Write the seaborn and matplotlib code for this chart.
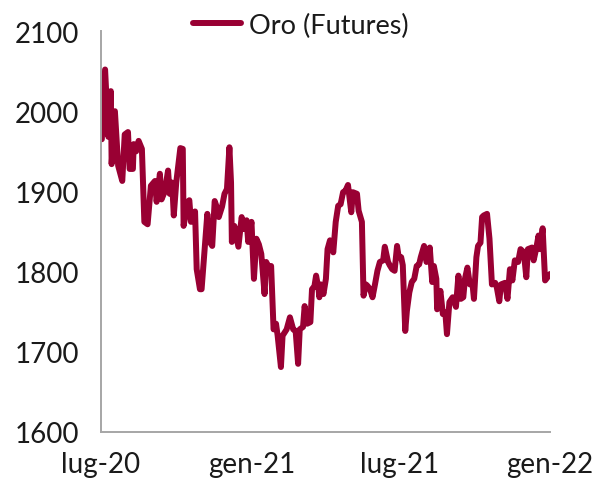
import numpy as np
import pandas as pd
import matplotlib
matplotlib.use("Agg")
import matplotlib.pyplot as plt
import seaborn as sns

# ── data ─────────────────────────────────────────────────────────────────────
START = "2020-07-01"
DAYS = [
    1, 5, 9, 12, 13, 17, 21, 26, 29, 33, 35, 39, 40, 43, 46, 50, 53, 57, 61, 66,
    68, 72, 74, 78, 82, 84, 87, 89, 92, 97, 100, 101, 106, 108, 110, 115, 117, 121, 123, 127,
    130, 133, 136, 139, 141, 144, 148, 151, 154, 157, 159, 160, 163, 166, 168, 172, 175, 178, 180, 184,
    187, 190, 193, 196, 200, 202, 205, 208, 211, 214, 216, 220, 222, 227, 231, 235, 238, 241, 243, 247,
    249, 252, 256, 258, 261, 263, 266, 267, 269, 272, 275, 277, 280, 284, 287, 290, 293, 296, 299, 302,
    306, 308, 313, 315, 319, 321, 324, 326, 329, 332, 335, 338, 341, 345, 347, 351, 353, 356, 359, 362,
    364, 367, 369, 372, 374, 377, 380, 383, 386, 389, 391, 395, 398, 401, 402, 405, 407, 410, 411, 415,
    418, 421, 423, 426, 430, 434, 437, 440, 443, 445, 448, 451, 454, 456, 459, 461, 464, 466, 468, 472,
    475, 478, 482, 484, 487, 489, 494, 497, 500, 503, 506, 510, 513, 517, 520, 522, 527, 529, 532, 535,
    537, 540, 543, 546, 549,
]
GOLD = [
    1965, 2052, 1968, 2025, 1934, 2000, 1932, 1913, 1971, 1974, 1928, 1928, 1959, 1950, 1963, 1953, 1862, 1859, 1907, 1913,
    1887, 1922, 1890, 1900, 1926, 1897, 1911, 1870, 1911, 1954, 1953, 1857, 1887, 1889, 1862, 1875, 1803, 1778, 1778, 1832,
    1872, 1837, 1832, 1888, 1882, 1868, 1881, 1897, 1903, 1955, 1911, 1837, 1857, 1841, 1831, 1868, 1853, 1864, 1837, 1862,
    1791, 1841, 1834, 1822, 1772, 1812, 1805, 1807, 1728, 1735, 1720, 1681, 1720, 1728, 1743, 1728, 1726, 1685, 1728, 1731,
    1757, 1735, 1737, 1778, 1782, 1795, 1778, 1768, 1784, 1772, 1791, 1828, 1839, 1824, 1862, 1882, 1884, 1899, 1901, 1908,
    1874, 1899, 1897, 1876, 1862, 1770, 1784, 1782, 1778, 1768, 1784, 1801, 1812, 1814, 1831, 1812, 1808, 1803, 1801, 1832,
    1818, 1818, 1808, 1726, 1751, 1774, 1787, 1791, 1807, 1809, 1818, 1832, 1812, 1818, 1830, 1787, 1807, 1791, 1753, 1776,
    1747, 1749, 1722, 1762, 1768, 1756, 1795, 1766, 1768, 1791, 1805, 1784, 1787, 1766, 1818, 1832, 1836, 1868, 1870, 1872,
    1841, 1784, 1786, 1780, 1763, 1784, 1786, 1766, 1803, 1789, 1814, 1812, 1828, 1824, 1793, 1828, 1830, 1814, 1828, 1845,
    1828, 1854, 1789, 1793, 1797,
]
SERIES = "Oro (Futures)"
TICK_DATES = ["2020-07-01", "2021-01-01", "2021-07-01", "2022-01-01"]
TICK_LABELS = ["lug-20", "gen-21", "lug-21", "gen-22"]
Y_TICKS = [1600, 1700, 1800, 1900, 2000, 2100]

COLOR = "#990033"
AXIS_GREY = "#A6A6A6"

sns.set_theme(style="white")
plt.rcParams["font.family"] = ["Lato", "DejaVu Sans"]


def main():
    df = pd.DataFrame({
        "date": pd.Timestamp(START) + pd.to_timedelta(DAYS, unit="D"),
        "price": GOLD,
    })

    fig = plt.figure(figsize=(5.94, 4.85), dpi=100)
    ax = fig.add_axes([101 / 594, 1 - 433 / 485, 449 / 594, 401 / 485])

    sns.lineplot(data=df, x="date", y="price", color=COLOR, linewidth=4.3,
                 solid_capstyle="round", solid_joinstyle="round",
                 label=SERIES, ax=ax)

    ax.set_xlim(pd.Timestamp(TICK_DATES[0]), pd.Timestamp(TICK_DATES[-1]))
    ax.set_ylim(Y_TICKS[0], Y_TICKS[-1])
    ax.set_xticks(pd.to_datetime(TICK_DATES))
    ax.set_xticklabels(TICK_LABELS)
    ax.set_yticks(Y_TICKS)
    ax.set_xlabel("")
    ax.set_ylabel("")

    for side in ["top", "right"]:
        ax.spines[side].set_visible(False)
    for side in ["left", "bottom"]:
        ax.spines[side].set_color(AXIS_GREY)
        ax.spines[side].set_linewidth(1.4)
    ax.tick_params(axis="both", direction="out", length=6, width=1.4,
                   color=AXIS_GREY, labelsize=20, labelcolor="#1a1a1a")
    ax.tick_params(axis="y", pad=10)
    ax.tick_params(axis="x", pad=8)

    ax.legend(loc="center", bbox_to_anchor=(300.5 / 594, 1 - 26 / 485),
              bbox_transform=fig.transFigure, frameon=False, fontsize=19.5,
              handlelength=1.8, handletextpad=0.28, borderpad=0)
    for t in ax.get_legend().get_texts():
        t.set_color("#1a1a1a")

    fig.savefig("out.png", dpi=100)
    plt.close(fig)


if __name__ == "__main__":
    main()
